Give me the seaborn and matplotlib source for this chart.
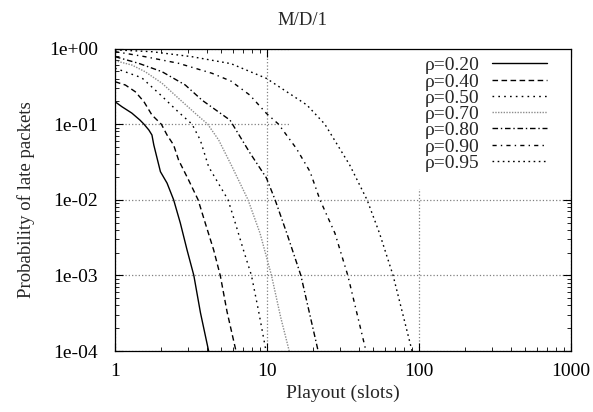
import numpy as np
import pandas as pd
import matplotlib
matplotlib.use("Agg")
import matplotlib.pyplot as plt
import matplotlib.ticker as mticker
from matplotlib.patches import Rectangle
import seaborn as sns

# ── data (playout in slots, P(late)) ───────────────────────────────────────
rho_labels = ["ρ=0.20", "ρ=0.40", "ρ=0.50", "ρ=0.70", "ρ=0.80", "ρ=0.90", "ρ=0.95"]

rho02_x = [1.0, 1.11, 1.29, 1.46, 1.55, 1.67, 1.75, 1.80, 1.99, 2.20, 2.43, 2.69, 2.98, 3.30, 3.65, 4.13]
rho02_p = [0.198, 0.170, 0.140, 0.113, 0.100, 0.0836, 0.0718, 0.053, 0.0235, 0.0166, 0.0100,
           0.00492, 0.00216, 0.00100, 0.00032, 0.00010]

rho04_x = [1.0, 1.17, 1.36, 1.55, 1.75, 2.02, 2.20, 2.43, 2.62, 3.05, 3.52, 3.93, 4.46, 4.93, 5.46, 6.25]
rho04_p = [0.364, 0.329, 0.268, 0.198, 0.132, 0.0994, 0.0718, 0.053, 0.0335, 0.0182, 0.0100,
           0.00487, 0.00216, 0.00099, 0.00033, 0.00010]

rho05_x = [1.0, 1.5, 2.0, 2.6, 3.21, 3.64, 4.13, 5.54, 6.19, 7.0, 7.9, 8.82, 9.85]
rho05_p = [0.55, 0.41, 0.242, 0.146, 0.100, 0.0616, 0.0273, 0.0100, 0.0049, 0.00216, 0.00100,
           0.00033, 0.00010]

rho07_x = [1.0, 1.29, 1.58, 2.04, 2.62, 3.37, 4.07, 4.81, 5.89, 7.5, 9.0, 10.7, 12.3, 14.0]
rho07_p = [0.69, 0.605, 0.493, 0.347, 0.219, 0.139, 0.100, 0.0616, 0.0274, 0.0100, 0.0036,
           0.0010, 0.00028, 0.00010]

rho08_x = [1.0, 1.43, 2.04, 2.9, 3.73, 5.71, 7.7, 9.9, 11.3, 13.5, 16.7, 21.7]
rho08_p = [0.78, 0.637, 0.493, 0.329, 0.208, 0.113, 0.042, 0.0195, 0.0100, 0.0036, 0.0010, 0.00010]

rho09_x = [1.0, 1.58, 2.62, 4.35, 5.8, 7.71, 9.9, 11.9, 15.6, 19.2, 22.3, 28.0, 34.0, 44.8]
rho09_p = [0.91, 0.779, 0.637, 0.47, 0.37, 0.242, 0.139, 0.100, 0.0477, 0.0235, 0.0100,
           0.0036, 0.0010, 0.00010]

rho095_x = [1.0, 1.75, 3.21, 5.8, 9.9, 18.3, 24.0, 35.0, 45.5, 55.0, 67.5, 90.0]
rho095_p = [0.96, 0.907, 0.779, 0.63, 0.403, 0.179, 0.100, 0.0288, 0.0100, 0.0036, 0.0010, 0.00010]

series_x = [rho02_x, rho04_x, rho05_x, rho07_x, rho08_x, rho09_x, rho095_x]
series_p = [rho02_p, rho04_p, rho05_p, rho07_p, rho08_p, rho09_p, rho095_p]

x_ticks = [1, 10, 100, 1000]
x_ticklabels = ["1", "10", "100", "1000"]
y_ticks = [1e-4, 1e-3, 1e-2, 1e-1, 1e0]
y_ticklabels = ["1e-04", "1e-03", "1e-02", "1e-01", "1e+00"]

# ── style ──────────────────────────────────────────────────────────────────
sns.set_theme(style="ticks")
plt.rcParams["font.family"] = ["Liberation Serif", "DejaVu Serif"]
plt.rcParams["font.size"] = 14

dash_styles = [
    (None, None),
    (4, 2.5),
    (1.2, 3),
    (1, 1),
    (4, 2, 1, 2),
    (3, 3, 1, 3),
    (1.2, 2.5),
]
colors = ["black", "black", "black", "#8c8c8c", "black", "black", "black"]

frames = []
for lab, xs, ps in zip(rho_labels, series_x, series_p):
    frames.append(pd.DataFrame({"slots": xs, "prob": ps, "rho": lab}))
df = pd.concat(frames, ignore_index=True)

fig = plt.figure(figsize=(5.93, 4.12), dpi=100)
ax = fig.add_axes([115 / 593, 1 - 351 / 412, 456 / 593, 302.5 / 412])

for i, lab in enumerate(rho_labels):
    sub = df[df["rho"] == lab]
    sns.lineplot(data=sub, x="slots", y="prob", ax=ax, color=colors[i],
                 linewidth=1.0, estimator=None, sort=False, label=lab, zorder=2)
    line = ax.get_lines()[-1]
    if dash_styles[i][0] is not None:
        line.set_dashes(dash_styles[i])

ax.set_xscale("log")
ax.set_yscale("log")
ax.set_xlim(1, 1000)
ax.set_ylim(1e-4, 1)

ax.set_xticks(x_ticks)
ax.set_xticklabels(x_ticklabels)
ax.set_yticks(y_ticks)
ax.set_yticklabels(y_ticklabels)
ax.xaxis.set_minor_locator(mticker.LogLocator(base=10, subs=np.arange(2, 10)))
ax.yaxis.set_minor_locator(mticker.LogLocator(base=10, subs=np.arange(2, 10)))
ax.xaxis.set_minor_formatter(mticker.NullFormatter())
ax.yaxis.set_minor_formatter(mticker.NullFormatter())

ax.tick_params(which="both", direction="in", top=True, right=True, colors="black")
ax.tick_params(which="major", length=6, width=0.8, labelsize=14)
ax.tick_params(which="minor", length=3, width=0.6)
ax.tick_params(axis="y", which="major", pad=12)
ax.tick_params(axis="x", which="major", pad=9)

ax.set_axisbelow(True)
ax.grid(True, which="major", color="#808080", linestyle=":", linewidth=0.9)
for s in ax.spines.values():
    s.set_color("black")
    s.set_linewidth(0.9)

# key area hides the grid like gnuplot does
ax.add_patch(Rectangle((0.382, 0.535), 0.62, 0.47, transform=ax.transAxes,
                       facecolor="white", edgecolor="none", zorder=1, clip_on=False))

ax.set_xlabel("Playout (slots)", fontsize=14, labelpad=3)
ax.set_ylabel("Probability of late packets", fontsize=13.5, labelpad=10)
fig.text(0.51, 0.951, "M/D/1", ha="center", va="center", fontsize=13.5)

leg = ax.legend(loc="upper right", bbox_to_anchor=(0.947, 0.973), frameon=False,
                markerfirst=False, handlelength=2.8, handletextpad=0.67,
                labelspacing=-0.07, borderaxespad=0, borderpad=0, fontsize=14)

fig.savefig("out.png", dpi=100)
